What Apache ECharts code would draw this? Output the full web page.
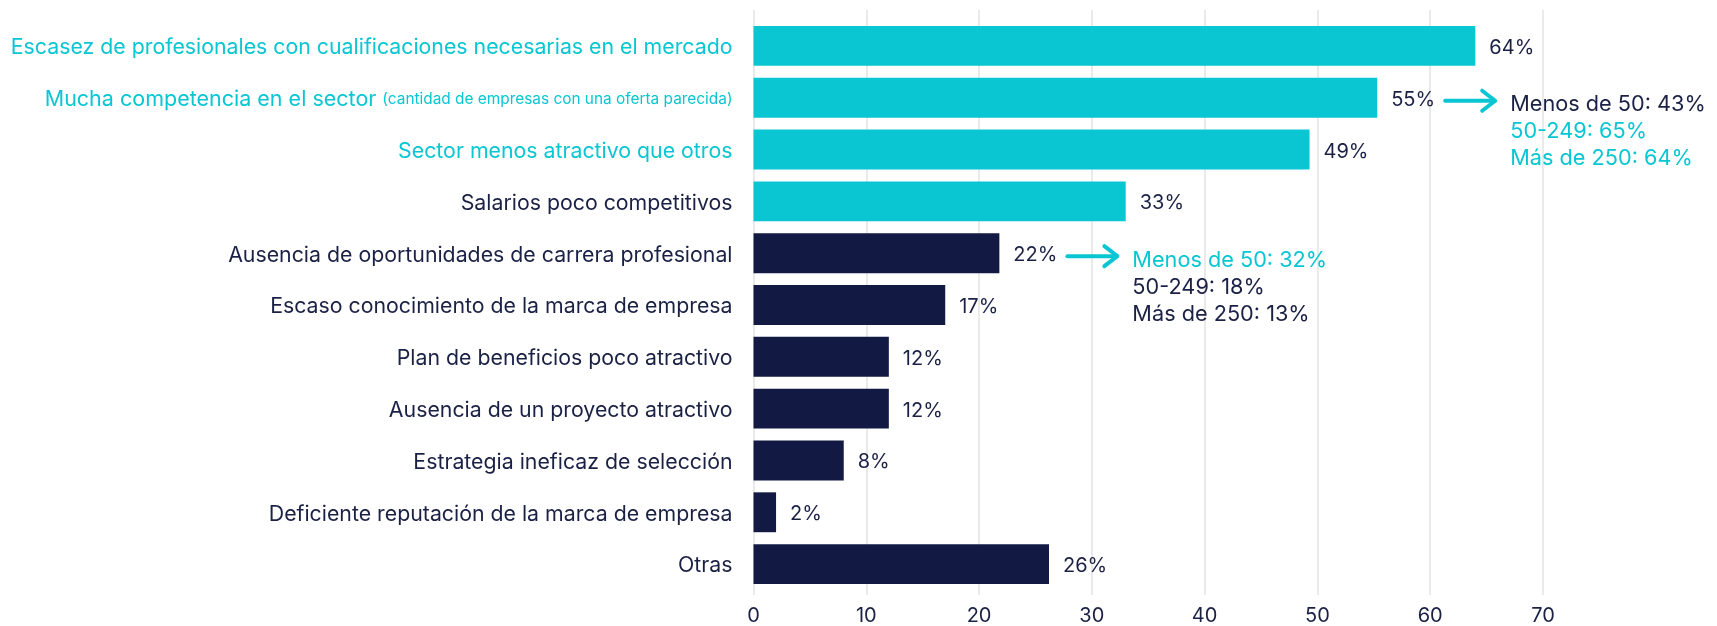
<!DOCTYPE html>
<html>
<head>
<meta charset="utf-8">
<style>
  html, body { margin: 0; padding: 0; background: #ffffff; }
  #chart { width: 1717px; height: 626px; }
</style>
<script src="https://cdn.jsdelivr.net/npm/echarts@6/dist/echarts.min.js"></script>
</head>
<body>
<div id="chart"></div>
<script>
// ---- data ----
const categories = [
  'Escasez de profesionales con cualificaciones necesarias en el mercado',
  'Mucha competencia en el sector (cantidad de empresas con una oferta parecida)',
  'Sector menos atractivo que otros',
  'Salarios poco competitivos',
  'Ausencia de oportunidades de carrera profesional',
  'Escaso conocimiento de la marca de empresa',
  'Plan de beneficios poco atractivo',
  'Ausencia de un proyecto atractivo',
  'Estrategia ineficaz de selección',
  'Deficiente reputación de la marca de empresa',
  'Otras'
];
const values = [64, 55.3, 49.3, 33, 21.8, 17, 12, 12, 8, 2, 26.2];
const xTicks = [0, 10, 20, 30, 40, 50, 60, 70];

const breakdownSector = ['Menos de 50: 43%', '50-249: 65%', 'Más de 250: 64%'];
const breakdownCarrera = ['Menos de 50: 32%', '50-249: 18%', 'Más de 250: 13%'];

// ---- styles ----
const CYAN = '#0AC6D3';
const NAVY = '#121A44';
const TEXT = '#1B2145';
const GRID = '#E3E3E3';
const FONT = 'Inter, "Noto Sans", sans-serif';
const cyanBars = 4;    // first N bars drawn in cyan
const cyanLabels = 3;  // first N category labels in cyan

const chart = echarts.init(document.getElementById('chart'), null, { renderer: 'canvas' });

const yData = categories.map((c, i) => ({
  value: c,
  textStyle: { color: i < cyanLabels ? CYAN : TEXT }
}));

const option = {
  animation: false,
  backgroundColor: '#ffffff',
  grid: { left: 753.5, right: 174, top: 20, bottom: 34, containLabel: false },
  xAxis: [{
    type: 'value',
    min: xTicks[0],
    max: xTicks[xTicks.length - 1],
    interval: 10,
    position: 'bottom',
    axisLine: { show: false },
    axisTick: { show: true, length: 5, lineStyle: { color: GRID, width: 1.5 } },
    splitLine: { show: true, lineStyle: { color: GRID, width: 1.5 } },
    axisLabel: { color: TEXT, fontSize: 20, fontFamily: FONT, margin: 16 }
  }, {
    type: 'value',
    min: xTicks[0],
    max: xTicks[xTicks.length - 1],
    interval: 10,
    position: 'top',
    axisLine: { show: false },
    axisTick: { show: true, length: 10, lineStyle: { color: GRID, width: 1.5 } },
    splitLine: { show: false },
    axisLabel: { show: false }
  }],
  yAxis: {
    type: 'category',
    inverse: true,
    data: yData,
    axisLine: { show: false },
    axisTick: { show: false },
    splitLine: { show: false },
    axisLabel: {
      fontSize: 21.3,
      fontFamily: FONT,
      margin: 21,
      padding: [4, 0, 0, 0],
      formatter: function (v) {
        const k = v.indexOf(' (');
        if (k > 0) {
          return '{big|' + v.slice(0, k) + '} {small|' + v.slice(k + 1) + '}';
        }
        return v;
      },
      rich: {
        big: { fontSize: 21.5, fontFamily: FONT, color: CYAN },
        small: { fontSize: 15.4, fontFamily: FONT, color: CYAN }
      }
    }
  },
  series: [{
    type: 'bar',
    xAxisIndex: 0,
    data: values.map((v, i) => ({ value: v, itemStyle: { color: i < cyanBars ? CYAN : NAVY } })),
    barCategoryGap: '23%',
    label: {
      show: true,
      position: 'right',
      distance: 14,
      offset: [0, 2],
      color: TEXT,
      fontSize: 20,
      fontFamily: FONT,
      formatter: p => Math.round(p.value) + '%'
    }
  }]
};

chart.setOption(option);

// ---- annotations anchored to bar ends ----
const annotations = [
  { index: 1, lines: breakdownSector, colors: [TEXT, CYAN, CYAN] },
  { index: 4, lines: breakdownCarrera, colors: [CYAN, TEXT, TEXT] }
];
const graphics = [];
annotations.forEach(a => {
  const p = chart.convertToPixel({ xAxisIndex: 0, yAxisIndex: 0 }, [values[a.index], a.index]);
  const x = p[0], y = p[1] + 3;
  const x0 = x + 68, x1 = x + 118;
  graphics.push({
    type: 'line',
    shape: { x1: x0, y1: y, x2: x1 - 2, y2: y },
    style: { stroke: CYAN, lineWidth: 4, lineCap: 'round' }
  });
  graphics.push({
    type: 'polyline',
    shape: { points: [[x1 - 13, y - 10], [x1, y], [x1 - 13, y + 10]] },
    style: { stroke: CYAN, lineWidth: 4, lineCap: 'round', lineJoin: 'round', fill: null }
  });
  a.lines.forEach((t, k) => {
    graphics.push({
      type: 'text',
      x: x + 133,
      y: p[1] + 7 + k * 27,
      style: {
        text: t,
        fill: a.colors[k],
        fontSize: 21.7,
        fontFamily: FONT,
        textVerticalAlign: 'middle',
        textAlign: 'left'
      }
    });
  });
});
chart.setOption({ graphic: graphics });
</script>
</body>
</html>
